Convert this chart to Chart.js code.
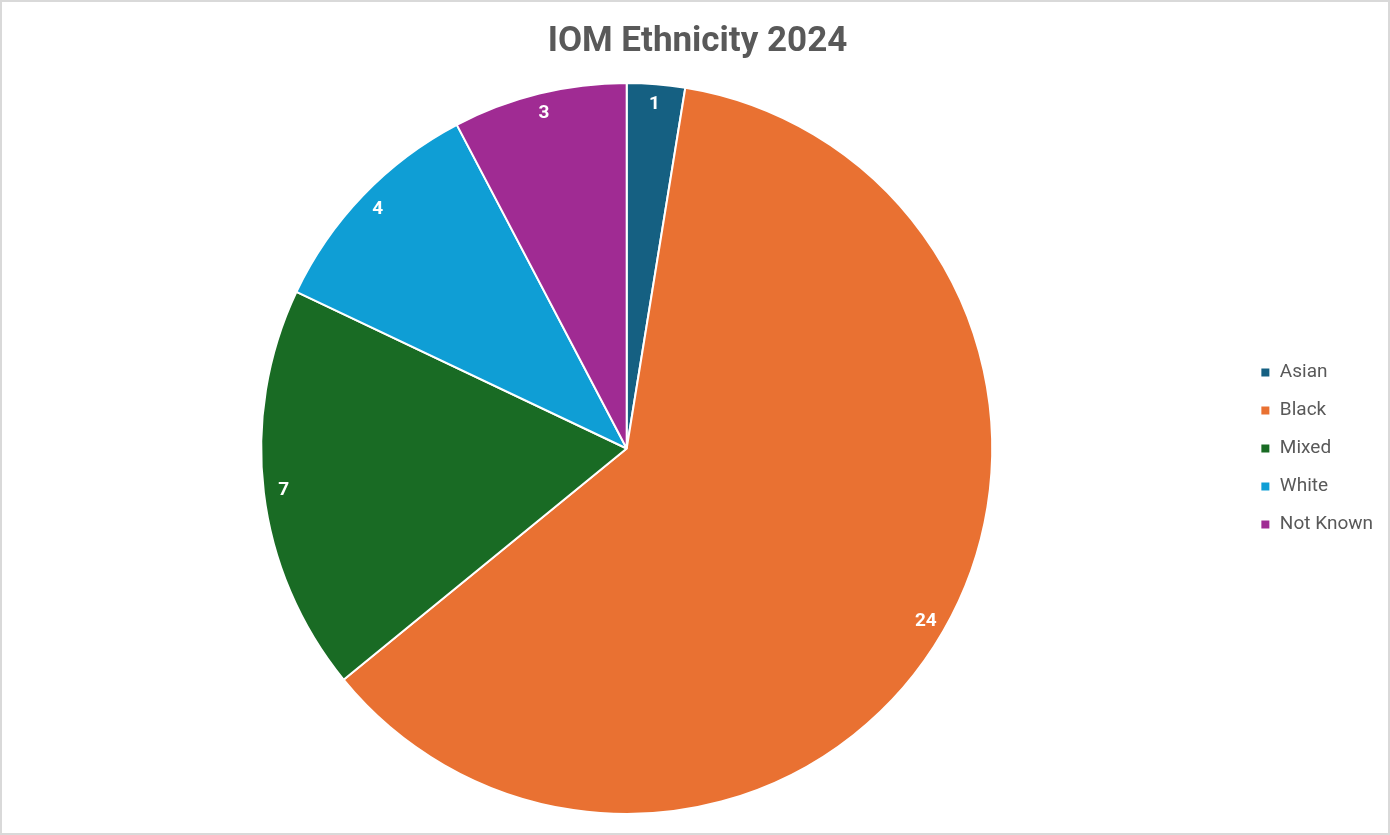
<!DOCTYPE html>
<html>
<head>
<meta charset="utf-8">
<script src="https://cdn.jsdelivr.net/npm/chart.js@4.4.1/dist/chart.umd.min.js"></script>
<style>
  html, body { margin: 0; padding: 0; background: #fff; }
  #wrap { width: 1390px; height: 835px; position: relative; }
</style>
</head>
<body>
<div id="wrap"><canvas id="pieChart"></canvas></div>
<script>
// data
var categories = ['Asian', 'Black', 'Mixed', 'White', 'Not Known'];
var counts = [1, 24, 7, 4, 3];
var sliceColors = ['#156082', '#E97132', '#196B24', '#0F9ED5', '#A02B93'];

// white background + light grey frame
var frame = {
  id: 'frame',
  beforeDraw: function(chart) {
    var c = chart.ctx;
    c.save();
    c.fillStyle = '#ffffff';
    c.fillRect(0, 0, chart.width, chart.height);
    c.strokeStyle = '#d9d9d9';
    c.lineWidth = 2;
    c.strokeRect(1, 1, chart.width - 2, chart.height - 2);
    c.restore();
  }
};

// value labels near the outer edge of each slice
var sliceLabels = {
  id: 'sliceLabels',
  afterDatasetsDraw: function(chart) {
    var c = chart.ctx;
    var meta = chart.getDatasetMeta(0);
    c.save();
    c.fillStyle = '#ffffff';
    c.font = 'bold 19px Roboto';
    c.textAlign = 'center';
    c.textBaseline = 'middle';
    meta.data.forEach(function(arc, i) {
      var p = arc.getProps(['x', 'y', 'startAngle', 'endAngle', 'outerRadius'], true);
      var mid = (p.startAngle + p.endAngle) / 2;
      var r = p.outerRadius * 0.945;
      c.fillText(String(counts[i]), p.x + Math.cos(mid) * r, p.y + Math.sin(mid) * r);
    });
    c.restore();
  }
};

var ctx = document.getElementById('pieChart');
var myChart = new Chart(ctx, {
  type: 'pie',
  data: {
    labels: categories,
    datasets: [{
      data: counts,
      backgroundColor: sliceColors,
      borderColor: '#ffffff',
      borderWidth: 2
    }]
  },
  options: {
    responsive: true,
    maintainAspectRatio: false,
    animation: false,
    layout: {
      padding: { left: 12, right: 7, top: 0, bottom: 20 }
    },
    plugins: {
      title: {
        display: true,
        text: 'IOM Ethnicity 2024',
        color: '#595959',
        font: { family: 'Roboto', size: 35, weight: 'bold' },
        padding: { top: 21, bottom: 19 }
      },
      legend: {
        position: 'right',
        fullSize: false,
        labels: {
          color: '#595959',
          font: { family: 'Roboto', size: 19 },
          boxWidth: 10,
          boxHeight: 10,
          padding: 19
        }
      },
      tooltip: { enabled: false }
    }
  },
  plugins: [frame, sliceLabels]
});
</script>
</body>
</html>
